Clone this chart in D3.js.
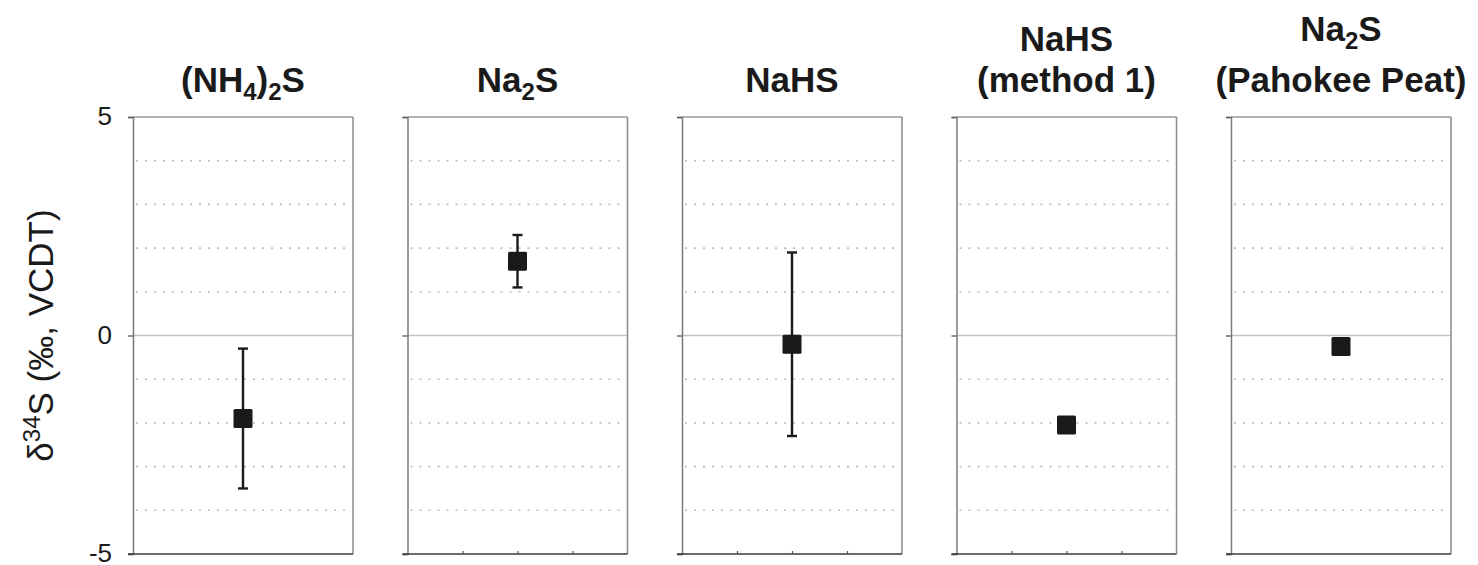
<!DOCTYPE html>
<html>
<head>
<meta charset="utf-8">
<script src="https://cdn.jsdelivr.net/npm/d3@7"></script>
<style>
  html, body { margin: 0; padding: 0; background: #ffffff; }
  svg { display: block; }
  text { font-family: "Liberation Sans", Arial, sans-serif; fill: #1a1a1a; }
</style>
</head>
<body>
<svg id="chart" width="1478" height="565"></svg>
<script>
// ---- data ----
const categories = ["(NH4)2S", "Na2S", "NaHS", "NaHS (method 1)", "Na2S (Pahokee Peat)"];
// title lines; "_x" marks a subscript character
const titleLines = [
  ["(NH_4)_2S"],
  ["Na_2S"],
  ["NaHS"],
  ["NaHS", "(method 1)"],
  ["Na_2S", "(Pahokee Peat)"]
];
const means = [-1.9, 1.7, -0.2, -2.05, -0.25];
const errors = [1.6, 0.6, 2.1, null, null];
const yTickValues = [-5, 0, 5];
const yTickLabels = ["-5", "0", "5"];
const gridValues = [-4, -3, -2, -1, 1, 2, 3, 4];
const bottomTickPanels = [1, 2, 3];
const bottomTickValues = [1, 2, 3];
const yLabel = { pre: "\u03B4", sup: "34", post: "S (\u2030, VCDT)" };

// ---- layout ----
const svg = d3.select("#chart");
const yTop = 117, yBottom = 554;
const y = d3.scaleLinear().domain([-5, 5]).range([yBottom, yTop]);
const panel = d3.scaleBand().domain(categories).range([133, 1451]).paddingInner(0.1985);
const pw = panel.bandwidth();

categories.forEach((cat, i) => {
  const x0 = panel(cat);
  const x = d3.scaleLinear().domain([0, 4]).range([x0, x0 + pw]);
  const g = svg.append("g");

  // dotted grid
  g.selectAll("line.grid").data(gridValues).enter().append("line")
    .attr("x1", x0 + 3).attr("x2", x0 + pw - 2)
    .attr("y1", d => y(d)).attr("y2", d => y(d))
    .attr("stroke", "#bdbdbd").attr("stroke-width", 1.6)
    .attr("stroke-dasharray", "2,7");
  // zero line
  g.append("line")
    .attr("x1", x0).attr("x2", x0 + pw)
    .attr("y1", y(0)).attr("y2", y(0))
    .attr("stroke", "#c4c4c4").attr("stroke-width", 1.6);

  // frame: top & right
  g.append("line").attr("x1", x0).attr("x2", x0 + pw).attr("y1", yTop).attr("y2", yTop)
    .attr("stroke", "#999").attr("stroke-width", 1.5);
  g.append("line").attr("x1", x0 + pw).attr("x2", x0 + pw).attr("y1", yTop).attr("y2", yBottom)
    .attr("stroke", "#8a8a8a").attr("stroke-width", 1.5);

  // left axis
  const ax = d3.axisLeft(y).tickValues(yTickValues).tickSize(5)
    .tickFormat((d, k) => i === 0 ? yTickLabels[k] : "");
  const axg = g.append("g").attr("transform", `translate(${x0},0)`).call(ax);
  axg.select(".domain").attr("stroke", "#7a7a7a").attr("stroke-width", 1.5);
  axg.selectAll(".tick line").attr("stroke", "#555").attr("stroke-width", 1.3);
  axg.selectAll(".tick text")
    .attr("x", -21)
    .attr("dy", "0.3em")
    .style("font-family", "'Liberation Sans', Arial, sans-serif")
    .style("font-size", "26px").attr("fill", "#1a1a1a");

  // bottom axis
  const bx = d3.axisBottom(x).tickValues(bottomTickPanels.includes(i) ? bottomTickValues : [])
    .tickSize(-3).tickSizeOuter(0).tickFormat("");
  const bxg = g.append("g").attr("transform", `translate(0,${yBottom})`).call(bx);
  bxg.select(".domain").attr("stroke", "#3a3a3a").attr("stroke-width", 1.6)
    .attr("d", `M${x0 - 5},0H${x0 + pw}`);
  bxg.selectAll(".tick line").attr("stroke", "#555").attr("stroke-width", 1.2);

  // error bar
  const cx = x(2);
  if (errors[i] != null) {
    const lo = y(means[i] - errors[i]), hi = y(means[i] + errors[i]);
    g.append("line").attr("x1", cx).attr("x2", cx).attr("y1", lo).attr("y2", hi)
      .attr("stroke", "#1a1a1a").attr("stroke-width", 2.4);
    [lo, hi].forEach(v => g.append("line").attr("x1", cx - 5).attr("x2", cx + 5)
      .attr("y1", v).attr("y2", v).attr("stroke", "#1a1a1a").attr("stroke-width", 2.4));
  }
  // marker
  const s = 19;
  g.append("rect").attr("x", cx - s / 2).attr("y", y(means[i]) - s / 2)
    .attr("width", s).attr("height", s).attr("rx", 1.5)
    .attr("fill", "#1a1a1a");

  // title
  const lines = titleLines[i];
  const tc = x0 + pw / 2;
  let base = 92;
  for (let L = lines.length - 1; L >= 0; L--) {
    const str = lines[L];
    const t = svg.append("text").attr("x", tc).attr("y", base)
      .attr("text-anchor", "middle").style("font-size", "35px").style("font-weight", "bold");
    let k = 0, buf = "", shifted = false;
    const flush = () => { if (buf) { t.append("tspan").attr("dy", shifted ? -8 : null).text(buf); shifted = false; buf = ""; } };
    while (k < str.length) {
      if (str[k] === "_") {
        flush();
        t.append("tspan").attr("dy", shifted ? 0 : 8).style("font-size", "24px").text(str[k + 1]);
        shifted = true;
        k += 2;
      } else { buf += str[k]; k++; }
    }
    flush();
    if (L > 0) base -= lines[L - 1].includes("_") ? 51 : 41;
  }
});

// y-axis label
const lbl = svg.append("text")
  .attr("transform", `translate(53,${(yTop + yBottom) / 2}) rotate(-90)`)
  .attr("text-anchor", "middle").style("font-size", "35px");
lbl.append("tspan").text(yLabel.pre);
lbl.append("tspan").attr("dy", -13).style("font-size", "24px").text(yLabel.sup);
lbl.append("tspan").attr("dy", 13).text(yLabel.post);
</script>
</body>
</html>
